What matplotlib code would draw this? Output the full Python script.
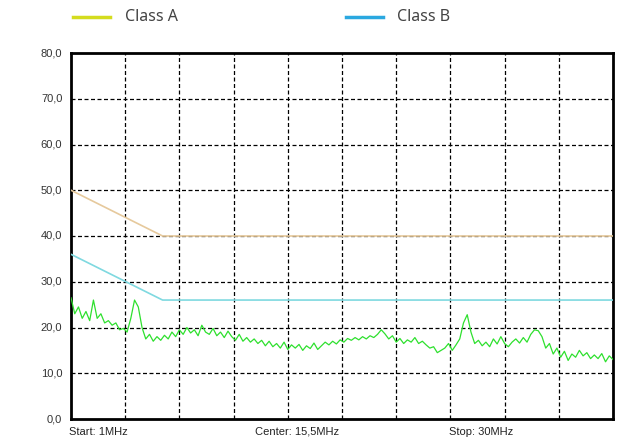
import numpy as np
import matplotlib
matplotlib.use('Agg')
import matplotlib.pyplot as plt

# Frequency axis (MHz), 0.2 MHz steps from start to stop
freq_start = 1.0
freq_stop = 30.0
freqs = np.round(np.arange(freq_start, freq_stop + 0.001, 0.2), 1)

# Limit lines (MHz, dBuV)
class_a_f = [1.0, 5.9, 30.0]
class_a_v = [50.0, 40.0, 40.0]
class_b_f = [1.0, 5.9, 30.0]
class_b_v = [36.0, 26.0, 26.0]

trace = [
    26.5, 23.0, 24.5, 22.0, 23.5, 21.5, 26.0, 22.0, 23.0, 21.0,
    21.5, 20.5, 21.0, 19.5, 19.8, 19.0, 22.0, 26.0, 24.5, 20.0,
    17.5, 18.5, 17.0, 18.0, 17.2, 18.3, 17.5, 19.0, 18.0, 19.5,
    18.5, 20.0, 18.8, 19.5, 18.2, 20.5, 19.0, 18.5, 19.8, 18.2,
    19.0, 17.8, 19.2, 18.0, 17.2, 18.5, 17.0, 17.8, 16.8, 17.5,
    16.5, 17.2, 16.0, 17.0, 15.8, 16.5, 15.5, 16.8, 15.2, 16.2,
    15.5, 16.3, 15.0, 16.0, 15.4, 16.6, 15.2, 16.0, 16.8, 16.2,
    17.0, 16.4, 17.3, 16.8, 17.6, 17.2, 17.8, 17.3, 18.0, 17.5,
    18.2, 17.8, 18.5, 19.5, 18.6, 17.5, 18.2, 16.8, 17.6, 16.5,
    17.3, 16.8, 17.8, 16.5, 17.0, 16.2, 15.5, 15.8, 14.5, 15.0,
    15.5, 16.5, 15.0, 16.2, 17.5, 21.0, 22.8, 19.0, 16.5, 17.2,
    16.0, 16.8, 15.8, 17.5, 16.4, 18.0, 16.5, 15.8, 16.8, 17.5,
    16.6, 17.8, 16.8, 18.5, 19.5, 19.3, 18.0, 15.5, 16.5, 14.2,
    15.5, 13.5, 14.8, 12.8, 14.2, 13.5, 15.0, 13.8, 14.5, 13.2,
    14.0, 13.2, 14.3, 12.5, 13.8, 13.0,
]

y_ticks = [0, 10, 20, 30, 40, 50, 60, 70, 80]
y_labels = ['0,0', '10,0', '20,0', '30,0', '40,0', '50,0', '60,0', '70,0', '80,0']
x_labels = ['Start: 1MHz', 'Center: 15,5MHz', 'Stop: 30MHz']

W, H = 617, 441
fig = plt.figure(figsize=(W / 100, H / 100), dpi=100)
ax = fig.add_axes([71 / W, 1 - 419 / H, 542 / W, 366 / H])

ax.plot(class_a_f, class_a_v, color='#e6c99c', linewidth=1.2, zorder=3)
ax.plot(class_b_f, class_b_v, color='#7fd9e0', linewidth=1.2, zorder=3)
ax.plot(freqs, trace, color='#2ee02e', linewidth=0.9, zorder=4)

ax.set_xlim(freq_start, freq_stop)
ax.set_ylim(0, 80)

# dashed grid, 10 columns and 8 rows
ax.set_xticks(np.linspace(freq_start, freq_stop, 11)[1:-1])
ax.set_yticks(y_ticks[1:-1])
ax.grid(True, color='black', linestyle=(0, (3.2, 2.0)), linewidth=0.9)
ax.tick_params(length=0, labelbottom=False, labelleft=False)
for s in ax.spines.values():
    s.set_linewidth(2)
    s.set_color('black')

# y labels as text, to the left of the frame
for v, lab in zip(y_ticks, y_labels):
    ax.text(-0.016, v, lab, transform=ax.get_yaxis_transform(),
            ha='right', va='center', fontsize=8, color='#333333',
            family='Liberation Sans')

# start/center/stop captions under the frame
for xf, lab in zip([69 / W, 255 / W, 449 / W], x_labels):
    fig.text(xf, 1 - 432 / H, lab, ha='left', va='center', fontsize=8,
             color='#222222', family='Liberation Sans')

# legend drawn at the top
fig.add_artist(plt.Line2D([73 / W, 110 / W], [1 - 17 / H] * 2,
                          color='#d4dc1e', linewidth=2.5))
fig.text(125 / W, 1 - 17 / H, 'Class A', ha='left', va='center',
         fontsize=11.5, color='#444444', family='Noto Sans')
fig.add_artist(plt.Line2D([346 / W, 383 / W], [1 - 17 / H] * 2,
                          color='#2aa8e0', linewidth=2.5))
fig.text(397 / W, 1 - 17 / H, 'Class B', ha='left', va='center',
         fontsize=11.5, color='#444444', family='Noto Sans')

plt.savefig('out.png', dpi=100)
